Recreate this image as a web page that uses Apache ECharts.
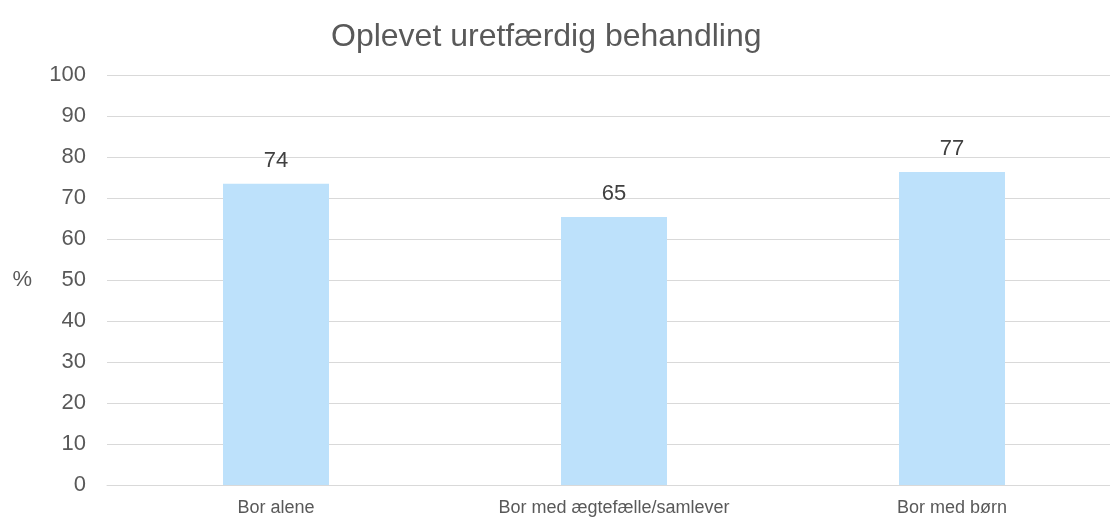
<!DOCTYPE html>
<html>
<head>
<meta charset="utf-8">
<script src="https://cdn.jsdelivr.net/npm/echarts@6/dist/echarts.min.js"></script>
<style>
html,body{margin:0;padding:0;background:#fff;overflow:hidden;}
#c{width:1121px;height:517px;}
</style>
</head>
<body>
<div id="c"></div>
<script>
var categories = ['Bor alene', 'Bor med ægtefælle/samlever', 'Bor med børn'];
var values = [73.5, 65.4, 76.4];
var dataLabels = ['74', '65', '77'];
var titleText = 'Oplevet uretfærdig behandling';
var yAxisName = '%';

var chart = echarts.init(document.getElementById('c'));
var font = '"Liberation Sans", Arial, sans-serif';
chart.setOption({
  animation: false,
  backgroundColor: '#ffffff',
  title: {
    text: titleText,
    left: 326,
    top: 16,
    textStyle: { fontFamily: font, fontSize: 32, fontWeight: 'normal', color: '#595959' }
  },
  grid: { left: 107, right: 0, top: 75.3, bottom: 31.7, containLabel: false },
  xAxis: {
    type: 'category',
    data: categories,
    axisLine: { show: true, lineStyle: { color: '#d9d9d9', width: 1 } },
    axisTick: { show: false },
    axisLabel: { fontFamily: font, fontSize: 18, color: '#595959', margin: 14 }
  },
  yAxis: {
    type: 'value',
    min: 0, max: 100, interval: 10,
    name: yAxisName,
    nameLocation: 'middle',
    nameRotate: 0,
    nameGap: 75,
    nameTextStyle: { fontFamily: font, fontSize: 22, color: '#595959' },
    axisLine: { show: false },
    axisTick: { show: false },
    axisLabel: { fontFamily: font, fontSize: 22, color: '#595959', margin: 21 },
    splitLine: { lineStyle: { color: '#d9d9d9', width: 1 } }
  },
  series: [{
    type: 'bar',
    data: values,
    barWidth: 106,
    itemStyle: { color: '#BDE1FB' },
    label: {
      show: true,
      position: 'top',
      distance: 12,
      fontFamily: font,
      fontSize: 22,
      color: '#404040',
      formatter: function (p) { return dataLabels[p.dataIndex]; }
    }
  }]
});
</script>
</body>
</html>
